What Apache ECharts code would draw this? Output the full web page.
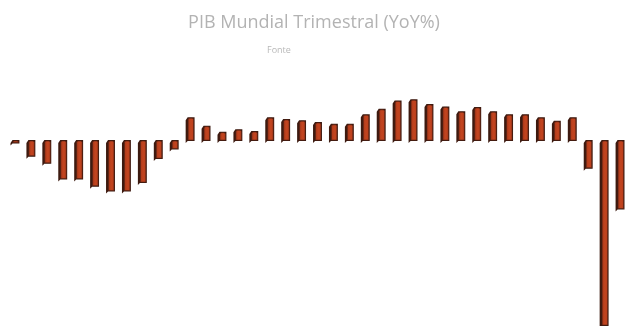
<!DOCTYPE html>
<html>
<head>
<meta charset="utf-8">
<script src="https://cdn.jsdelivr.net/npm/echarts@6/dist/echarts.min.js"></script>
<style>
  html, body { margin: 0; padding: 0; background: #fff; }
  #chart { width: 628px; height: 326px; }
</style>
</head>
<body>
<div id="chart"></div>
<script>
// trimestres (eixo oculto)
const trimestres = [];
for (let i = 1; i <= 39; i++) trimestres.push("T" + i);

// PIB mundial, variação anual (%)
const pibYoY = [
  -0.2, -1.3, -1.9, -3.2, -3.2, -3.8, -4.2, -4.2, -3.5, -1.5,
  -0.7, 1.9, 1.2, 0.7, 0.9, 0.75, 1.9, 1.75, 1.65, 1.5,
  1.35, 1.35, 2.15, 2.6, 3.3, 3.4, 3.0, 2.8, 2.4, 2.75,
  2.4, 2.15, 2.15, 1.9, 1.6, 1.9, -2.3, -16.0, -5.7
];

const corFrente = "#c2441f";
const corLado = "#3d1a10";

const chart = echarts.init(document.getElementById("chart"));

function desenharBarra(params, api) {
  const i = api.value(0);
  const v = api.value(1);
  const p0 = api.coord([i, 0]);
  const p1 = api.coord([i, v]);
  const w = api.size([1, 0])[0] * 0.56;
  const x0 = p0[0] - w / 2;
  const x1 = p0[0] + w / 2;
  const yA = Math.min(p0[1], p1[1]);
  const yB = Math.max(p0[1], p1[1]);
  const d = 2;
  // recorte na área do grid
  const ys = params.coordSys;
  const top = ys.y, bot = ys.y + ys.height;
  const cA = Math.max(yA, top), cB = Math.min(yB, bot);
  return {
    type: "group",
    children: [
      {
        type: "polygon",
        shape: {
          points: [
            [x0, cA + d], [x0 + d, cA - 1], [x1, cA - 1],
            [x1, cB], [x0 + d, cB], [x0, cB + d]
          ]
        },
        style: { fill: corLado }
      },
      {
        type: "rect",
        shape: {
          x: x0 + d + 0.5, y: cA,
          width: x1 - x0 - d - 1.5,
          height: Math.max(cB - cA - 1, 1),
          r: [1.5, 1.5, 0, 0]
        },
        style: {
          fill: new echarts.graphic.LinearGradient(0, 0, 1, 0, [
            { offset: 0, color: "#a8381a" },
            { offset: 0.5, color: corFrente },
            { offset: 1, color: "#b93f1d" }
          ]),
          stroke: "#5a2414",
          lineWidth: 0.6
        }
      }
    ]
  };
}

const option = {
  backgroundColor: "#ffffff",
  animation: false,
  title: [
    {
      text: "PIB Mundial Trimestral (YoY%)",
      left: "center",
      top: 9,
      textStyle: {
        fontFamily: "Open Sans",
        fontSize: 18,
        fontWeight: "normal",
        color: "#b3b3b3"
      }
    },
    {
      text: "Fonte",
      left: 262,
      top: 41,
      textStyle: {
        fontFamily: "Open Sans",
        fontSize: 9,
        fontWeight: "normal",
        color: "#b8b8b8"
      }
    }
  ],
  grid: { left: 7, right: -6, top: 93, bottom: 0 },
  xAxis: {
    type: "category",
    data: trimestres,
    show: false
  },
  yAxis: {
    type: "value",
    min: -15.4,
    max: 4,
    show: false
  },
  series: [
    {
      type: "custom",
      renderItem: desenharBarra,
      encode: { x: 0, y: 1 },
      data: pibYoY.map((v, i) => [i, v])
    }
  ]
};

chart.setOption(option);
</script>
</body>
</html>
